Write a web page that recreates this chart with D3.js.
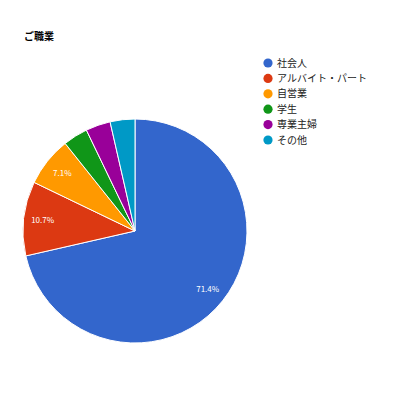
<html>
<head>
<meta charset="utf-8" />
<title>ご職業</title>
<script src="https://d3js.org/d3.v7.min.js"></script>
<style>
  body { margin: 0; background: white; }
  text { font-family: "Noto Sans CJK JP", "Noto Sans", Arial, sans-serif; }
</style>
</head>
<body>
<script>
  // values (28 answers)
  var categories = ["社会人", "アルバイト・パート", "自営業", "学生", "専業主婦", "その他"];
  var counts = [20, 3, 2, 1, 1, 1];
  var colors = ["#3366cc", "#dc3912", "#ff9900", "#109618", "#990099", "#0099c6"];

  var width = 400,
      height = 400,
      cx = 135, cy = 231, radius = 112;

  var svg = d3.select("body").append("svg")
      .attr("width", width)
      .attr("height", height);

  svg.append("text")
      .attr("x", 24)
      .attr("y", 40)
      .style("font-size", "10px")
      .style("font-weight", "bold")
      .attr("fill", "#000")
      .text("ご職業");

  var total = d3.sum(counts);
  var color = d3.scaleOrdinal().domain(categories).range(colors);

  var pie = d3.pie().sort(null).value(function(d, i) { return counts[i]; });
  var arc = d3.arc().innerRadius(0).outerRadius(radius);
  var labelArc = d3.arc().innerRadius(radius * 0.83).outerRadius(radius * 0.83);

  var g = svg.append("g").attr("transform", "translate(" + cx + "," + cy + ")");

  var slices = g.selectAll(".slice")
    .data(pie(categories))
    .enter().append("g")
      .attr("class", "slice");

  slices.append("path")
      .attr("d", arc)
      .attr("fill", function(d) { return color(d.data); })
      .attr("stroke", "#fff")
      .attr("stroke-width", 1);

  // only slices big enough get a percent label
  slices.filter(function(d) { return (d.value / total) > 0.05; })
    .append("text")
      .attr("transform", function(d) { return "translate(" + labelArc.centroid(d) + ")"; })
      .attr("text-anchor", "middle")
      .attr("dy", "0.35em")
      .attr("fill", "#fff")
      .style("font-size", "8px")
      .text(function(d) { return d3.format(".1%")(d.value / total); });

  // legend
  var legend = svg.selectAll(".legend")
    .data(categories)
    .enter().append("g")
      .attr("class", "legend")
      .attr("transform", function(d, i) { return "translate(268," + (63 + i * 15.4) + ")"; });

  legend.append("circle")
      .attr("r", 4.6)
      .attr("fill", function(d) { return color(d); });

  legend.append("text")
      .attr("x", 9)
      .attr("dy", "0.35em")
      .attr("fill", "#222")
      .style("font-size", "10px")
      .text(function(d) { return d; });
</script>
</body>
</html>
